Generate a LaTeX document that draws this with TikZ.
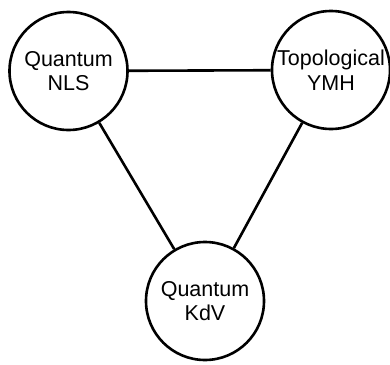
\documentclass[tikz,border=0pt]{standalone}
\usepackage{fontspec}
\setmainfont{Liberation Sans}
\usepackage{tikz}
\usetikzlibrary{positioning}

\tikzset{
	theory/.style={draw, circle, line width=2.6bp, minimum size=118bp, inner sep=0pt, align=center, font=\fontsize{21.5bp}{24.5bp}\selectfont},
	link/.style={line width=2.6bp}
}

\begin{document}
\begin{tikzpicture}[x=1bp, y=-1bp]
		\useasboundingbox (0,0) rectangle (390,365);

		\node[theory] (nls) at (68.5,71) {Quantum\\NLS};
		\node[theory] (ymh) at (331,70) {Topological\\YMH};
		\node[theory] (kdv) at (205,301) {Quantum\\KdV};

		\draw[link] (nls) -- (ymh);
		\draw[link] (nls) -- (kdv);
		\draw[link] (ymh) -- (kdv);
	\end{tikzpicture}
\end{document}
